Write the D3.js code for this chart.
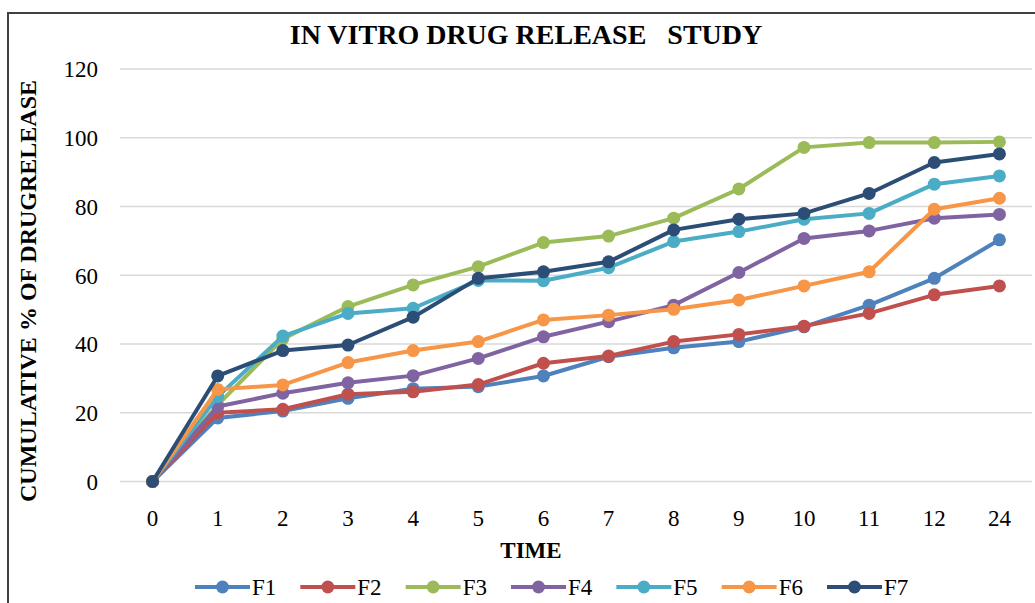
<!DOCTYPE html>
<html>
<head>
<meta charset="utf-8">
<script src="https://cdn.jsdelivr.net/npm/d3@7"></script>
<style>
  html, body { margin: 0; padding: 0; background: #fff; }
  svg { display: block; }
  text { font-family: "Liberation Serif", "Times New Roman", serif; fill: #000; }
</style>
</head>
<body>
<svg id="chart" width="1035" height="603"></svg>
<script>
// Sampling times (hours) shown as evenly spaced categories
const times = ["0", "1", "2", "3", "4", "5", "6", "7", "8", "9", "10", "11", "12", "24"];

// Cumulative % drug release for each formulation
const F1 = [0, 18.5, 20.5, 24.2, 27.0, 27.6, 30.7, 36.3, 38.9, 40.7, 45.0, 51.3, 59.1, 70.3];
const F2 = [0, 20.0, 21.0, 25.4, 26.1, 28.2, 34.4, 36.5, 40.7, 42.8, 45.2, 48.9, 54.3, 56.9];
const F3 = [0, 22.3, 41.5, 50.9, 57.2, 62.5, 69.5, 71.4, 76.6, 85.1, 97.2, 98.6, 98.6, 98.8];
const F4 = [0, 21.8, 25.7, 28.7, 30.8, 35.8, 42.1, 46.5, 51.3, 60.8, 70.7, 72.9, 76.6, 77.7];
const F5 = [0, 24.7, 42.3, 48.9, 50.4, 58.5, 58.4, 62.2, 69.8, 72.7, 76.3, 78.0, 86.5, 88.9];
const F6 = [0, 26.8, 28.1, 34.6, 38.1, 40.7, 47.0, 48.4, 50.1, 52.8, 56.9, 61.0, 79.2, 82.4];
const F7 = [0, 30.7, 38.1, 39.7, 47.8, 59.1, 61.0, 63.9, 73.2, 76.3, 78.0, 83.8, 92.8, 95.3];

const seriesNames = ["F1", "F2", "F3", "F4", "F5", "F6", "F7"];
const seriesValues = [F1, F2, F3, F4, F5, F6, F7];
const seriesColors = ["#4F81BD", "#C0504D", "#9BBB59", "#8064A2", "#4BACC6", "#F79646", "#2C4D75"];

const yTicks = [0, 20, 40, 60, 80, 100, 120];

const svg = d3.select("#chart");

// Outer chart frame
svg.append("rect")
  .attr("x", 8).attr("y", 13)
  .attr("width", 1040).attr("height", 600)
  .attr("fill", "none")
  .attr("stroke", "#404040")
  .attr("stroke-width", 2);

const plot = { left: 120, right: 1032, top: 69, bottom: 481.5 };

const x = d3.scaleBand().domain(times).range([plot.left, plot.right]).padding(0);
const y = d3.scaleLinear().domain([0, 120]).range([plot.bottom, plot.top]);
const cx = t => x(t) + x.bandwidth() / 2;

// Horizontal gridlines
svg.append("g")
  .selectAll("line")
  .data(yTicks)
  .join("line")
  .attr("x1", plot.left).attr("x2", plot.right)
  .attr("y1", d => y(d)).attr("y2", d => y(d))
  .attr("stroke", "#d9d9d9")
  .attr("stroke-width", 1.5);

// Y axis tick labels
const yAxis = d3.axisLeft(y).tickValues(yTicks).tickSize(0).tickPadding(0);
svg.append("g")
  .attr("transform", `translate(98,0)`)
  .call(yAxis)
  .call(g => g.select(".domain").remove())
  .call(g => g.selectAll("text")
    .attr("font-family", "Liberation Serif")
    .attr("font-size", 23)
    .attr("fill", "#000")
    .attr("dy", "0.34em"));

// X axis tick labels
const xAxis = d3.axisBottom(x).tickSize(0).tickPadding(0);
svg.append("g")
  .attr("transform", `translate(0,${plot.bottom})`)
  .call(xAxis)
  .call(g => g.select(".domain").remove())
  .call(g => g.selectAll("text")
    .attr("font-family", "Liberation Serif")
    .attr("font-size", 23)
    .attr("fill", "#000")
    .attr("y", 0)
    .attr("dy", "1.95em"));

// Lines and markers, F1 drawn first so F7 sits on top
const line = d3.line().x((d, i) => cx(times[i])).y(d => y(d));

seriesNames.forEach((name, s) => {
  const g = svg.append("g").attr("class", "series-" + name);
  g.append("path")
    .datum(seriesValues[s])
    .attr("d", line)
    .attr("fill", "none")
    .attr("stroke", seriesColors[s])
    .attr("stroke-width", 4)
    .attr("stroke-linejoin", "round");
  g.selectAll("circle")
    .data(seriesValues[s])
    .join("circle")
    .attr("cx", (d, i) => cx(times[i]))
    .attr("cy", d => y(d))
    .attr("r", 6.5)
    .attr("fill", seriesColors[s]);
});

// Titles
svg.append("text")
  .attr("x", 526).attr("y", 44)
  .attr("text-anchor", "middle")
  .attr("font-size", 28)
  .attr("font-weight", "bold")
  .style("white-space", "pre")
  .text("IN VITRO DRUG RELEASE   STUDY");

svg.append("text")
  .attr("transform", "translate(36,291) rotate(-90)")
  .attr("text-anchor", "middle")
  .attr("font-size", 24)
  .attr("font-weight", "bold")
  .text("CUMULATIVE % OF DRUGRELEASE");

svg.append("text")
  .attr("x", 531).attr("y", 558)
  .attr("text-anchor", "middle")
  .attr("font-size", 23)
  .attr("font-weight", "bold")
  .text("TIME");

// Legend
const legendX = d3.scalePoint().domain(seriesNames).range([195, 827]);
const legend = svg.append("g").attr("transform", "translate(0,587)");
seriesNames.forEach((name, s) => {
  const lx = legendX(name);
  const item = legend.append("g");
  item.append("line")
    .attr("x1", lx).attr("x2", lx + 55)
    .attr("y1", 0).attr("y2", 0)
    .attr("stroke", seriesColors[s])
    .attr("stroke-width", 4);
  item.append("circle")
    .attr("cx", lx + 27.5).attr("cy", 0)
    .attr("r", 6.5)
    .attr("fill", seriesColors[s]);
  item.append("text")
    .attr("x", lx + 57).attr("y", 0)
    .attr("dy", "0.35em")
    .attr("font-size", 23)
    .text(name);
});
</script>
</body>
</html>
